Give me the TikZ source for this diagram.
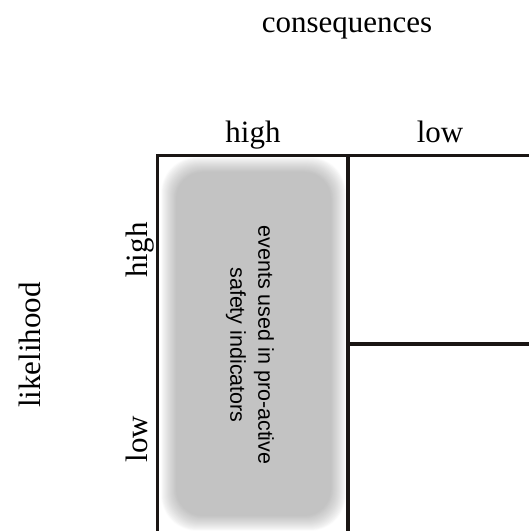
\documentclass[tikz,border=0pt]{standalone}
\usepackage{fontspec}
\setmainfont{Liberation Serif}
\newfontfamily\boxfont{Liberation Sans}
\definecolor{gridcol}{HTML}{1A1614}
\begin{document}
\begin{tikzpicture}[x=1pt,y=1pt,
  lab/.style={inner sep=0pt, anchor=base, font=\fontsize{31}{37}\selectfont},
  grid line/.style={line width=3.2pt, draw=gridcol},
  boxtext/.style={inner sep=0pt, align=center, font=\boxfont\fontsize{21.5}{28}\selectfont}]
\useasboundingbox (0,0) rectangle (529,531);
% blurred gray box
\foreach \i in {0,...,15} {
  \pgfmathsetmacro{\shade}{99-22.5*(\i/15)^0.8}
  \pgfmathsetmacro{\rad}{36-\i*0.6}
  \fill[black!\fpeval{100-\shade}, rounded corners=\rad pt]
    (161+\i,0+\i) rectangle (346-\i,374-\i);
}
% grid
\draw[grid line] (157.5,0) -- (157.5,375.5) -- (529,375.5);
\draw[grid line] (348,0) -- (348,375.5);
\draw[grid line] (348,187) -- (529,187);
% labels
\node[lab] (cons) at (347,498) {consequences};
\node[lab] (chigh) at (253,388) {high};
\node[lab] (clow) at (440,388) {low};
\node[lab, rotate=90] (lik) at (40,186) {likelihood};
\node[lab, rotate=90] (lhigh) at (147,281) {high};
\node[lab, rotate=90] (llow) at (147,92) {low};
\node[boxtext, rotate=-90] (ev) at (250,186) {events used in pro-active\\safety indicators};
\end{tikzpicture}
\end{document}
